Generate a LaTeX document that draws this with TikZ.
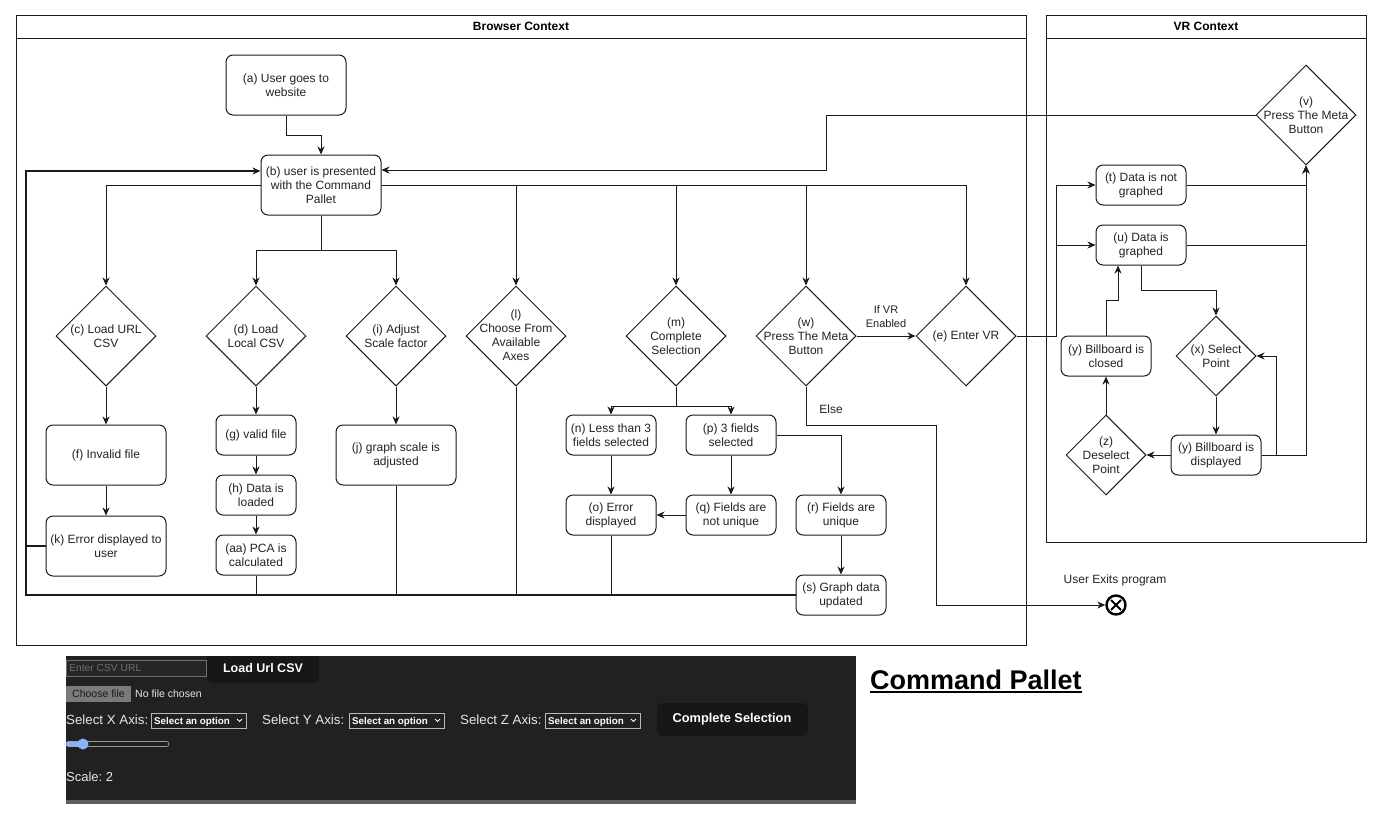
\documentclass[tikz,border=0pt]{standalone}
\usepackage{fontspec}
\setmainfont{Liberation Sans}
\usetikzlibrary{shapes.geometric,arrows.meta}
\definecolor{ln}{HTML}{1A1A1A}
\definecolor{tx}{HTML}{222222}
\definecolor{panel}{HTML}{212121}
\definecolor{btn}{HTML}{171717}
\definecolor{ptx}{HTML}{E6E6E6}
\definecolor{strip}{HTML}{5E5E5E}
\definecolor{inbord}{HTML}{707070}
\definecolor{infill}{HTML}{262626}
\definecolor{phtx}{HTML}{707070}
\definecolor{fbtn}{HTML}{7A7A7A}
\definecolor{slider}{HTML}{8AB4F8}
\definecolor{selb}{HTML}{B8B8B8}
\begin{document}
\begin{tikzpicture}[x=1pt,y=-1pt,
  every node/.style={font=\fontsize{12}{14}\selectfont, text=tx},
  rbox/.style 2 args={draw=ln, line width=1pt, rounded corners=7pt, minimum width=#1, minimum height=#2, inner sep=0pt, align=center},
  dia/.style={draw=ln, line width=1pt, diamond, minimum width=#1, minimum height=#1, inner sep=0pt},
  dia/.default=100,
  lab/.style={align=center, inner sep=0pt},
  con/.style={draw=ln, line width=1pt},
  arr/.style={con, -{Stealth[length=8pt,width=7pt,inset=2.5pt]}},
  cont/.style={draw=ln, line width=1pt, inner sep=0pt, anchor=north west},
  ttl/.style={font=\bfseries\fontsize{12}{14}\selectfont, text=black, inner sep=0pt},
  ptext/.style={text=ptx, inner sep=0pt, anchor=west},
]
\useasboundingbox (0,0) rectangle (1381,820);

% ---------- containers ----------
\node[cont, minimum width=1010, minimum height=630] (bc) at (16,15) {};
\draw[con] (16,38) -- (1026,38);
\node[ttl] (bct) at (521,26) {Browser Context};
\node[cont, minimum width=320, minimum height=527] (vc) at (1046,15) {};
\draw[con] (1046,38) -- (1366,38);
\node[ttl] (vct) at (1206,26) {VR Context};

% ---------- browser nodes ----------
\node[rbox={120}{60}] (a) at (286,85) {(a) User goes to\\website};
\node[rbox={120}{60}] (b) at (321,185) {(b) user is presented\\with the Command\\Pallet};

\node[dia] (c) at (106,336) {};  \node[lab] (ct) at (c) {(c) Load URL\\CSV};
\node[dia] (d) at (256,336) {};  \node[lab] (dt) at (d) {(d) Load\\Local CSV};
\node[dia] (i) at (396,336) {};  \node[lab] (it) at (i) {(i) Adjust\\Scale factor};
\node[dia] (l) at (516,336) {};  \node[lab] (lt) at ([yshift=1pt]l.center) {(l)\\Choose From\\Available\\Axes};
\node[dia] (m) at (676,336) {};  \node[lab] (mt) at (m) {(m)\\Complete\\Selection};
\node[dia] (w) at (806,336) {};  \node[lab] (wt) at (w) {(w)\\Press The Meta\\Button};
\node[dia] (e) at (966,336) {};  \node[lab] (et) at (e) {(e) Enter VR};

\node[rbox={120}{60}] (f) at (106,455) {(f) Invalid file};
\node[rbox={120}{60}] (k) at (106,546) {(k) Error displayed to\\user};
\node[rbox={80}{40}] (g) at (256,435) {(g) valid file};
\node[rbox={80}{40}] (h) at (256,495) {(h) Data is\\loaded};
\node[rbox={80}{40}] (aa) at (256,555) {(aa) PCA is\\calculated};
\node[rbox={120}{60}] (j) at (396,455) {(j) graph scale is\\adjusted};

\node[rbox={90}{40}] (n) at (611,435) {(n) Less than 3\\fields selected};
\node[rbox={90}{40}] (p) at (731,435) {(p) 3 fields\\selected};
\node[rbox={90}{40}] (o) at (611,515) {(o) Error\\displayed};
\node[rbox={90}{40}] (q) at (731,515) {(q) Fields are\\not unique};
\node[rbox={90}{40}] (r) at (841,515) {(r) Fields are\\unique};
\node[rbox={90}{40}] (s) at (841,595) {(s) Graph data\\updated};

% ---------- VR nodes ----------
\node[dia] (v) at (1306,115) {};  \node[lab] (vt) at (v) {(v)\\Press The Meta\\Button};
\node[rbox={90}{40}] (t) at (1141,185) {(t) Data is not\\graphed};
\node[rbox={90}{40}] (u) at (1141,245) {(u) Data is\\graphed};
\node[dia=80] (x) at (1216,356) {};  \node[lab] (xt) at (x) {(x) Select\\Point};
\node[rbox={90}{40}] (yd) at (1216,455) {(y) Billboard is\\displayed};
\node[dia=80] (z) at (1106,455) {};  \node[lab] (zt) at (z) {(z)\\Deselect\\Point};
\node[rbox={90}{40}] (yc) at (1106,356) {(y) Billboard is\\closed};

% end node
\node[circle, draw=black, line width=2.4pt, minimum size=19pt, inner sep=0pt,
  path picture={
    \draw[line width=2pt] ([xshift=-5pt,yshift=-5pt]path picture bounding box.center) -- ([xshift=5pt,yshift=5pt]path picture bounding box.center);
    \draw[line width=2pt] ([xshift=-5pt,yshift=5pt]path picture bounding box.center) -- ([xshift=5pt,yshift=-5pt]path picture bounding box.center);
  }] (end) at (1116,605) {};
\node[lab] (endt) at (1115,580) {User Exits program};

% ---------- connectors ----------
\coordinate (lc) at (26,171);
\coordinate (el) at (936,425);
\coordinate (ej) at (1056,336);
\coordinate (vb) at (826,115);

\draw[arr] (a.south) -- ++(0,20) -| (b.north);
\draw[arr] (v.west) -- (vb) |- ([yshift=15pt]b.east);
\draw[arr, line width=1.8pt] (s.west) -| (lc) -- ([yshift=14pt]b.west);
\draw[con, line width=1.4pt] (k.west) -- (k.west -| lc);

\draw[arr] (b.west) -| (c.north);
\draw[arr] (b.south) -- ++(0,35) -| (d.north);
\draw[arr] (b.south) -- ++(0,35) -| (i.north);
\draw[arr] (b.east) -| (l.north);
\draw[arr] (b.east) -| (m.north);
\draw[arr] (b.east) -| (w.north);
\draw[arr] (b.east) -| (e.north);

\draw[arr] (c.south) -- (f.north);
\draw[arr] (f.south) -- (k.north);
\draw[arr] (d.south) -- (g.north);
\draw[arr] (g.south) -- (h.north);
\draw[arr] (h.south) -- (aa.north);
\draw[arr] (i.south) -- (j.north);

\draw[con] (aa.south) -- (aa.south |- s.west);
\draw[con] (j.south) -- (j.south |- s.west);
\draw[con] (l.south) -- (l.south |- s.west);
\draw[con] (o.south) -- (o.south |- s.west);

\draw[arr] (m.south) -- ++(0,20) -| (n.north);
\draw[arr] (m.south) -- ++(0,20) -| (p.north);
\draw[arr] (n.south) -- (o.north);
\draw[arr] (p.south) -- (q.north);
\draw[arr] (q.west) -- (o.east);
\draw[arr] (p.east) -| (r.north);
\draw[arr] (r.south) -- (s.north);

\draw[arr] (w.east) -- node[lab, above=8pt, font=\fontsize{11}{14}\selectfont] (vrl) {If VR\\Enabled} (e.west);
\draw[arr] (w.south) |- (el) -- (el |- end.west) -- (end.west);
\node[lab] (elsel) at (831,409) {Else};

\draw[arr] (e.east) -- (ej) |- (t.west);
\draw[arr] (ej) |- (u.west);
\draw[arr] (t.east) -| (v.south);
\draw[arr] (u.east) -| (v.south);
\draw[arr] (yd.east) -| (v.south);
\draw[arr] ([xshift=15pt]yd.east) |- (x.east);
\draw[arr] (u.south) -- ++(0,25) -| (x.north);
\draw[arr] (x.south) -- (yd.north);
\draw[arr] (yd.west) -- (z.east);
\draw[arr] (z.north) -- (yc.south);
\draw[arr] (yc.north) -- ++(0,-35) -| ([xshift=-23pt]u.south);

% ---------- command pallet screenshot ----------
\fill[panel] (66,656) rectangle (856,800);
\fill[strip] (66,800) rectangle (856,804);
\fill[btn, rounded corners=6pt] (207,656) rectangle (319,683);
\fill[btn] (207,656) rectangle (319,666);
\node[font=\bfseries\fontsize{12.5}{14}\selectfont, text=white, inner sep=0pt] (lub) at (263,668) {Load Url CSV};
\draw[inbord, fill=infill, line width=0.8pt] (66,660) rectangle (206,676);
\node[ptext, text=phtx, font=\fontsize{10.3}{12}\selectfont] (inp) at (69,668) {Enter CSV URL};
\fill[fbtn] (66,686) rectangle (131,702);
\node[inner sep=0pt, text=black!90, font=\fontsize{10.5}{12}\selectfont] (cf) at (98.5,694) {Choose file};
\node[ptext, font=\fontsize{10.5}{12}\selectfont] (nf) at (135,694) {No file chosen};

\node[ptext, font=\fontsize{13.3}{15}\selectfont] (sx) at (66,720) {Select X Axis:};
\node[ptext, font=\fontsize{13.3}{15}\selectfont] (sy) at (262,720) {Select Y Axis:};
\node[ptext, font=\fontsize{13.3}{15}\selectfont] (sz) at (460,720) {Select Z Axis:};
\foreach \xx/\nm in {151/ox,349/oy,545/oz}{
  \draw[selb, fill=panel, line width=0.7pt] (\xx,713) rectangle ++(95,15);
  \node[ptext, text=white, font=\bfseries\fontsize{9.8}{11}\selectfont, anchor=base west] (\nm) at (\xx+3,724) {Select an option};
  \draw[white, line width=1pt] (\xx+86,719) -- (\xx+88.5,721.5) -- (\xx+91,719);
}
\fill[btn, rounded corners=6pt] (657,703) rectangle (808,736);
\node[font=\bfseries\fontsize{12.8}{14}\selectfont, text=white, inner sep=0pt] (csb) at (732,719.5) {Complete Selection};

\draw[gray!80, fill=panel, line width=0.7pt, rounded corners=2.5pt] (66,741.5) rectangle (169,746.5);
\fill[slider, rounded corners=2.5pt] (66,741.5) rectangle (83,746.5);
\fill[slider] (83,744) circle (5.5);
\node[ptext, font=\fontsize{13}{15}\selectfont] (sc) at (66,777) {Scale:\hspace{3.6pt}2};

\node[font=\bfseries\fontsize{27}{30}\selectfont, text=black, inner sep=0pt, anchor=base west] (cp) at (870,689) {Command Pallet};
\draw[black, line width=2.2pt] ([yshift=-3pt]cp.base west) -- ([yshift=-3pt]cp.base east);
\end{tikzpicture}
\end{document}
